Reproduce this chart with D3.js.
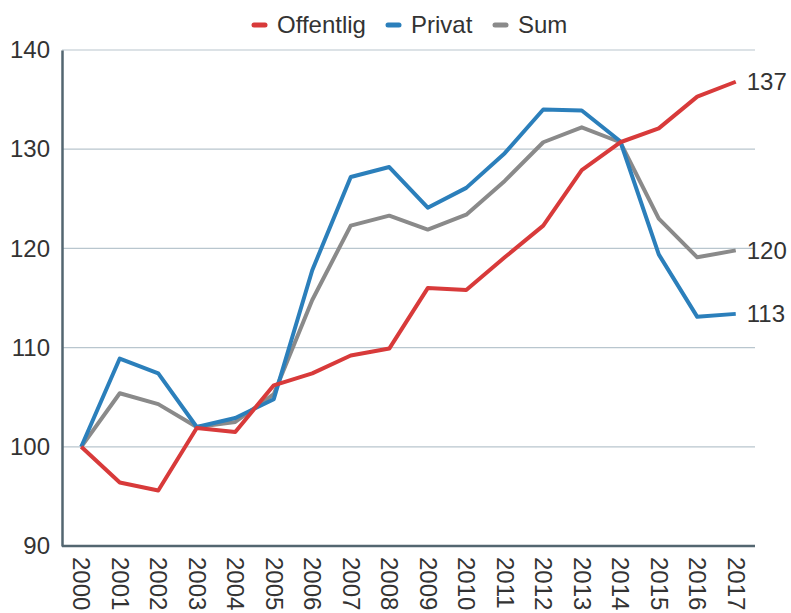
<!DOCTYPE html>
<html>
<head>
<meta charset="utf-8">
<script src="https://cdn.jsdelivr.net/npm/d3@7"></script>
<style>
  body { margin: 0; background: #fff; }
  text { font-family: "Liberation Sans", Arial, sans-serif; fill: #333; }
</style>
</head>
<body>
<div id="chart"></div>
<script>
var years = ["2000","2001","2002","2003","2004","2005","2006","2007","2008","2009",
             "2010","2011","2012","2013","2014","2015","2016","2017"];
var offentlig = [100, 96.4, 95.6, 101.9, 101.5, 106.2, 107.4, 109.2, 109.9, 116.0,
                 115.8, 119.1, 122.3, 127.9, 130.7, 132.1, 135.3, 136.8];
var privat = [100, 108.9, 107.4, 102.0, 102.9, 104.8, 117.8, 127.2, 128.2, 124.1,
              126.1, 129.6, 134.0, 133.9, 130.8, 119.4, 113.1, 113.4];
var sum = [100, 105.4, 104.3, 102.0, 102.5, 105.3, 114.8, 122.3, 123.3, 121.9,
           123.4, 126.8, 130.7, 132.2, 130.7, 123.0, 119.1, 119.8];
var yTicks = [90, 100, 110, 120, 130, 140];
var endLabels = ["137", "113", "120"];

var series = [
  { name: "Offentlig", values: offentlig, color: "#d83a3a", label: endLabels[0] },
  { name: "Privat", values: privat, color: "#2b7fbb", label: endLabels[1] },
  { name: "Sum", values: sum, color: "#8a8a8a", label: endLabels[2] }
];

var W = 791, H = 613;
var m = { left: 62, right: 755, top: 50, bottom: 546 };

var svg = d3.select("#chart").append("svg")
  .attr("width", W).attr("height", H);

var x = d3.scalePoint().domain(years).range([m.left, m.right]).padding(0.5);
var y = d3.scaleLinear().domain([90, 140]).range([m.bottom, m.top]);

// gridlines
svg.append("g").selectAll("line")
  .data(yTicks.filter(function(d) { return d > 90; }))
  .enter().append("line")
  .attr("x1", m.left).attr("x2", m.right)
  .attr("y1", function(d) { return y(d); })
  .attr("y2", function(d) { return y(d); })
  .attr("stroke", "#b9c6ce").attr("stroke-width", 1.2);

// y axis
var yAxis = d3.axisLeft(y).tickValues(yTicks).tickSize(0).tickPadding(12);
var gy = svg.append("g").attr("transform", "translate(" + m.left + ",0)").call(yAxis);
gy.select(".domain").attr("stroke", "#536670").attr("stroke-width", 2.5);
gy.selectAll("text").style("font-size", "24px").attr("fill", "#333");

// x axis
var xAxis = d3.axisBottom(x).tickSize(0).tickPadding(0);
var gx = svg.append("g").attr("transform", "translate(0," + m.bottom + ")").call(xAxis);
gx.select(".domain").attr("stroke", "#536670").attr("stroke-width", 2.5)
  .attr("d", "M" + m.left + ",0H" + m.right);
gx.selectAll("text")
  .style("font-size", "24px").attr("fill", "#333")
  .attr("text-anchor", "start")
  .attr("dy", "0.35em")
  .attr("transform", "translate(0,11) rotate(90)")
  .attr("x", 0).attr("y", 0);

// lines
var line = d3.line()
  .x(function(d, i) { return x(years[i]); })
  .y(function(d) { return y(d); });

svg.append("g").selectAll("path")
  .data(series.slice().reverse())
  .enter().append("path")
  .attr("d", function(d) { return line(d.values); })
  .attr("fill", "none")
  .attr("stroke", function(d) { return d.color; })
  .attr("stroke-width", 4)
  .attr("stroke-linejoin", "round");

// end labels
svg.append("g").selectAll("text")
  .data(series)
  .enter().append("text")
  .attr("x", x(years[years.length - 1]) + 11)
  .attr("y", function(d) { return y(d.values[d.values.length - 1]); })
  .attr("dy", "0.35em")
  .style("font-size", "24px")
  .text(function(d) { return d.label; });

// legend
var legend = svg.append("g").attr("transform", "translate(0,25)");
var lx = [254, 388, 495];
var item = legend.selectAll("g").data(series).enter().append("g")
  .attr("transform", function(d, i) { return "translate(" + lx[i] + ",0)"; });
item.append("line")
  .attr("x1", 0).attr("x2", 11).attr("y1", 0).attr("y2", 0)
  .attr("stroke", function(d) { return d.color; })
  .attr("stroke-width", 5).attr("stroke-linecap", "round");
item.append("text")
  .attr("x", 23).attr("dy", "0.35em")
  .style("font-size", "24px")
  .text(function(d) { return d.name; });
</script>
</body>
</html>
